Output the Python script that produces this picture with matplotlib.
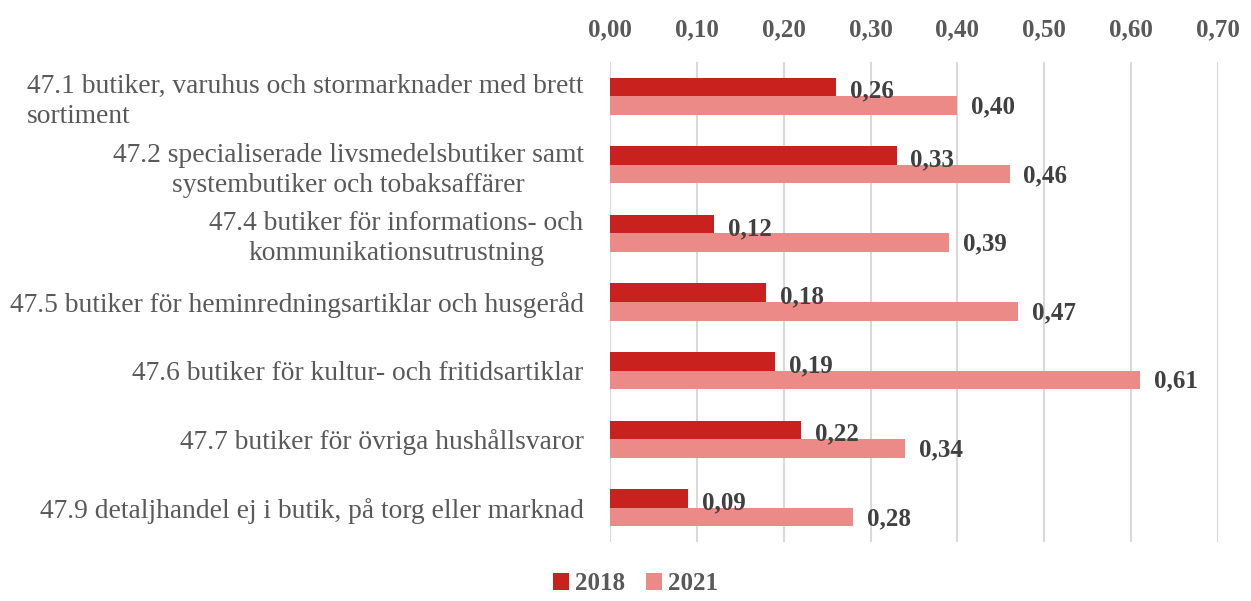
import numpy as np
import matplotlib.pyplot as plt

categories = [
    "47.1 butiker, varuhus och stormarknader med brett\nsortiment",
    "47.2 specialiserade livsmedelsbutiker samt\nsystembutiker och tobaksaffärer",
    "47.4 butiker för informations- och\nkommunikationsutrustning",
    "47.5 butiker för heminredningsartiklar och husgeråd",
    "47.6 butiker för kultur- och fritidsartiklar",
    "47.7 butiker för övriga hushållsvaror",
    "47.9 detaljhandel ej i butik, på torg eller marknad",
]
values_2018 = [0.26, 0.33, 0.12, 0.18, 0.19, 0.22, 0.09]
values_2021 = [0.40, 0.46, 0.39, 0.47, 0.61, 0.34, 0.28]
series_names = ["2018", "2021"]
xticks = [0.0, 0.1, 0.2, 0.3, 0.4, 0.5, 0.6, 0.7]

col_2018 = "#C9211E"
col_2021 = "#EC8A88"
font = "Liberation Serif"

plt.rcParams["font.family"] = [font, "DejaVu Serif"]

fig = plt.figure(figsize=(12.51, 6.01), dpi=100)
ax = fig.add_axes([0.4876, 0.0982, 0.4860, 0.7986])

y = np.arange(len(categories))
h = 0.27
b1 = ax.barh(y - h / 2, values_2018, height=h, color=col_2018, label=series_names[0], zorder=3)
b2 = ax.barh(y + h / 2, values_2021, height=h, color=col_2021, label=series_names[1], zorder=3)

for bars, vals, dy in [(b1, values_2018, -3), (b2, values_2021, -1)]:
    for rect, v in zip(bars, vals):
        ax.annotate(f"{v:.2f}".replace(".", ","),
                    xy=(rect.get_width(), rect.get_y() + rect.get_height() / 2),
                    xytext=(10, dy), textcoords="offset points",
                    ha="left", va="center", fontsize=18, fontweight="bold",
                    color="#404040")

ax.set_xlim(0, 0.7)
ax.set_ylim(len(categories) - 0.5, -0.5)
ax.set_xticks(xticks)
ax.set_xticklabels([f"{t:.2f}".replace(".", ",") for t in xticks],
                   fontsize=18, fontweight="bold", color="#595959")
ax.xaxis.tick_top()
ax.tick_params(axis="x", length=0, pad=15)
ax.set_yticks(y)
ax.set_yticklabels(categories, fontsize=19.8, color="#595959",
                   multialignment="center", linespacing=1.25)
ax.tick_params(axis="y", length=0, pad=19)
ax.get_yticklabels()[0].set_multialignment("left")
ax.grid(axis="x", color="#D9D9D9", linewidth=1.5, zorder=0)
for s in ax.spines.values():
    s.set_visible(False)

fig.legend(handles=[b1, b2], loc="lower center", bbox_to_anchor=(0.508, -0.028), ncol=2,
           frameon=False, prop={"size": 18, "weight": "bold"}, labelcolor="#595959",
           handlelength=0.65, handleheight=0.65, handletextpad=0.25, columnspacing=0.8)

fig.savefig("out.png", dpi=100)
